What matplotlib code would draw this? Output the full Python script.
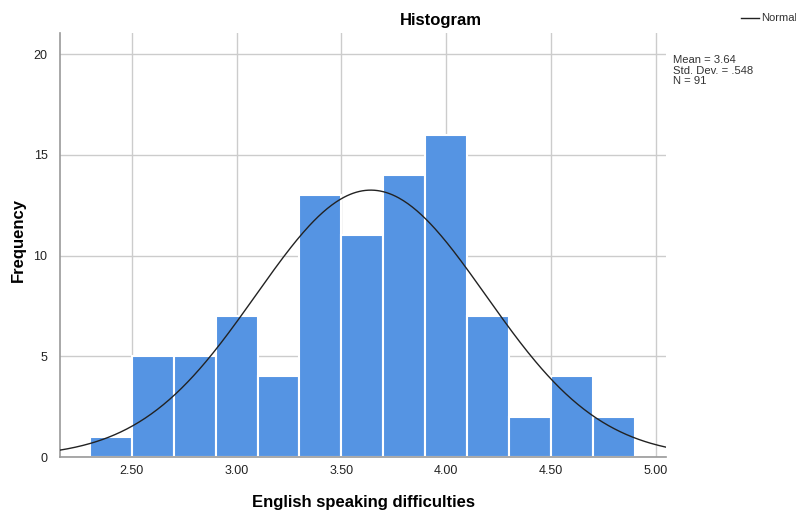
import numpy as np
import matplotlib
matplotlib.use("Agg")
import matplotlib.pyplot as plt

plt.rcParams['font.family'] = ['Liberation Sans', 'DejaVu Sans']

bin_edges = [2.3, 2.5, 2.7, 2.9, 3.1, 3.3, 3.5, 3.7, 3.9, 4.1, 4.3, 4.5, 4.7, 4.9]
counts = [1, 5, 5, 7, 4, 13, 11, 14, 16, 7, 2, 4, 2]
mean, sd, n = 3.64, 0.548, 91
xticks = [2.5, 3.0, 3.5, 4.0, 4.5, 5.0]
xticklabels = ["2.50", "3.00", "3.50", "4.00", "4.50", "5.00"]
yticks = [0, 5, 10, 15, 20]

fig = plt.figure(figsize=(7.96, 5.12), dpi=100)
ax = fig.add_axes([60/796, 1-457/512, 606/796, 424/512])

lefts = bin_edges[:-1]
widths = np.diff(bin_edges)
ax.bar(lefts, counts, width=widths, align='edge', color='#5594e3',
       edgecolor='white', linewidth=1.5, zorder=2)

xlim = (2.158, 5.048)
xs = np.linspace(xlim[0], xlim[1], 400)
bw = widths[0]
ys = n * bw / (sd * np.sqrt(2*np.pi)) * np.exp(-0.5*((xs-mean)/sd)**2)
ax.plot(xs, ys, color='#222222', linewidth=1.0, zorder=3)

ax.set_xlim(*xlim)
ax.set_ylim(0, 21.05)
ax.set_xticks(xticks)
ax.set_xticklabels(xticklabels)
ax.set_yticks(yticks)
ax.grid(True, color='#cccccc', linewidth=1.0, zorder=0)
ax.set_axisbelow(True)
for s in ['top', 'right']:
    ax.spines[s].set_visible(False)
for s in ['left', 'bottom']:
    ax.spines[s].set_color('#999999')
    ax.spines[s].set_linewidth(1.2)
ax.tick_params(length=0, labelsize=9, colors='#222222')
ax.tick_params(axis='x', pad=6)
ax.tick_params(axis='y', pad=9)

fig.text(441/796, 1-20/512, "Histogram", fontsize=12, fontweight='bold',
         ha='center', va='center')
ax.set_xlabel("English speaking difficulties", fontsize=12, fontweight='bold', va='center')
ax.xaxis.set_label_coords(0.5, (457-502)/424)
ax.set_ylabel("Frequency", fontsize=12, fontweight='bold', va='center')
ax.yaxis.set_label_coords((18.5-60)/606, (457-240)/424)

fig.text(673/796, 1-55/512, "Mean = 3.64\nStd. Dev. = .548\nN = 91",
         fontsize=8.1, color='#333333', va='top', ha='left', linespacing=1.08)
fig.lines.append(plt.Line2D([741/796, 759/796], [1-18/512, 1-18/512],
                            transform=fig.transFigure, color='#222222', linewidth=1.0))
fig.text(761/796, 1-18/512, "Normal", fontsize=8.1, color='#333333', va='center', ha='left')

fig.savefig("out.png", dpi=100)
